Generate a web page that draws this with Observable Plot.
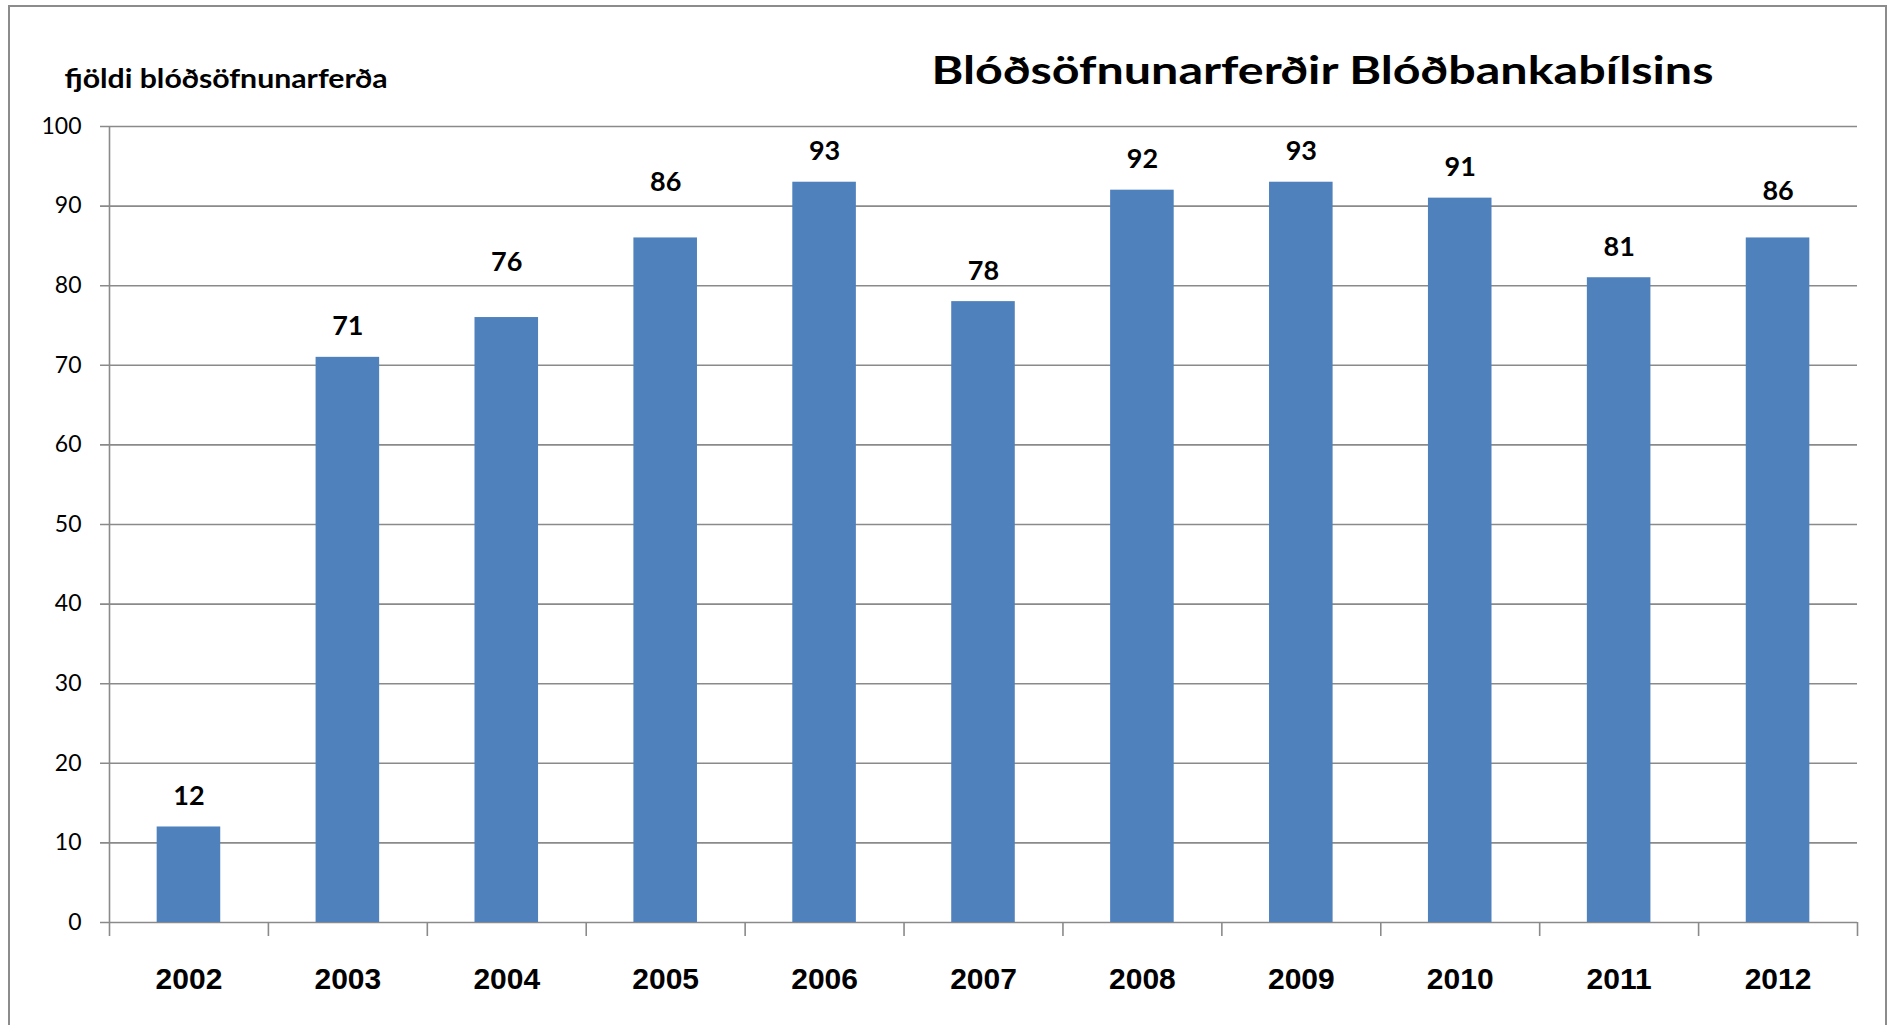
<!DOCTYPE html>
<html>
<head>
<meta charset="utf-8">
<script src="https://cdn.jsdelivr.net/npm/d3@7"></script>
<script src="https://cdn.jsdelivr.net/npm/@observablehq/plot@0.6"></script>
<style>
  html, body { margin: 0; padding: 0; background: #fff; overflow: hidden; }
  #wrap { position: relative; width: 1894px; height: 1025px; }
  #border { position: absolute; left: 8px; top: 5px; width: 1879px; height: 1100px; border: 2px solid #8c8c8c; box-sizing: border-box; pointer-events: none; }
  #chart { position: absolute; left: 0; top: 0; }
</style>
</head>
<body>
<div id="wrap"><div id="chart"></div><div id="border"></div></div>
<script>
const years = ["2002","2003","2004","2005","2006","2007","2008","2009","2010","2011","2012"];
const trips = [12, 71, 76, 86, 93, 78, 92, 93, 91, 81, 86];
const yTicks = [0, 10, 20, 30, 40, 50, 60, 70, 80, 90, 100];
const title = "Blóðsöfnunarferðir Blóðbankabílsins";
const yLabel = "fjöldi blóðsöfnunarferða";
// labels that were dragged higher in the original
const raisedMore = ["2004", "2005"];
const raisedLess = ["2012"];

const data = years.map((y, i) => ({year: y, value: trips[i]}));

const W = 1894, H = 1025;
const mL = 109, mR = 37, mT = 126, mB = 103;
const step = (W - mL - mR) / years.length;
const plotH = H - mT - mB;
const grid = "#8a8a8a";
const blue = "#4F81BD";

const chart = Plot.plot({
  width: W,
  height: H,
  marginLeft: mL, marginRight: mR, marginTop: mT, marginBottom: mB,
  style: {fontFamily: "Lato, 'Liberation Sans', sans-serif", color: "#000", background: "transparent"},
  x: {type: "band", domain: years, paddingInner: 0.6, paddingOuter: 0.3, round: false, axis: null},
  y: {domain: [0, 100], axis: null},
  marks: [
    Plot.ruleY(yTicks, {y: d => d, stroke: grid, strokeWidth: 1.6, insetLeft: -9}),
    Plot.barY(data, {x: "year", y: "value", fill: blue}),
    // left axis line
    Plot.ruleX([years[0]], {x: d => d, dx: -step / 2, stroke: grid, strokeWidth: 1.6, insetBottom: -14}),
    // category boundary ticks
    Plot.ruleX(years.slice(1), {x: d => d, dx: -step / 2, stroke: grid, strokeWidth: 1.6, insetTop: plotH, insetBottom: -14}),
    Plot.ruleX([years[years.length - 1]], {x: d => d, dx: step / 2, stroke: grid, strokeWidth: 1.6, insetTop: plotH, insetBottom: -14}),
    // y tick labels
    Plot.text(yTicks, {y: d => d, text: d => String(d), frameAnchor: "left", textAnchor: "end", dx: -28, lineAnchor: "middle", fontSize: 23, fill: "#000"}),
    // x labels
    Plot.text(years, {x: d => d, text: d => d, frameAnchor: "bottom", lineAnchor: "bottom", dy: 66, fontSize: 30, fontWeight: "bold", fontFamily: "'Liberation Sans', Arial, sans-serif", fill: "#000"}),
    // value labels
    Plot.text(data.filter(d => !raisedMore.includes(d.year) && !raisedLess.includes(d.year)), {x: "year", y: "value", text: d => String(d.value), lineAnchor: "bottom", dy: -22, fontSize: 27, fontWeight: "bold", fill: "#000"}),
    Plot.text(data.filter(d => raisedMore.includes(d.year)), {x: "year", y: "value", text: d => String(d.value), lineAnchor: "bottom", dy: -47, fontSize: 27, fontWeight: "bold", fill: "#000"}),
    Plot.text(data.filter(d => raisedLess.includes(d.year)), {x: "year", y: "value", text: d => String(d.value), lineAnchor: "bottom", dy: -38, fontSize: 27, fontWeight: "bold", fill: "#000"}),
    // title and y label
    Plot.text([title], {text: d => d, frameAnchor: "top-left", textAnchor: "start", lineAnchor: "bottom", dx: 822, dy: -43, fontSize: 39, fontWeight: "bold", fill: "#000"}),
    Plot.text([yLabel], {text: d => d, frameAnchor: "top-left", textAnchor: "start", lineAnchor: "bottom", dx: -45, dy: -39, fontSize: 27, fontWeight: "bold", fill: "#000"})
  ]
});
document.getElementById("chart").appendChild(chart);

// fit title and y label widths to the original
d3.select(chart).selectAll("text").each(function() {
  const t = this.textContent;
  if (t === title) { this.setAttribute("textLength", 782); this.setAttribute("lengthAdjust", "spacingAndGlyphs"); }
  if (t === yLabel) { this.setAttribute("textLength", 323); this.setAttribute("lengthAdjust", "spacingAndGlyphs"); }
});
</script>
</body>
</html>
